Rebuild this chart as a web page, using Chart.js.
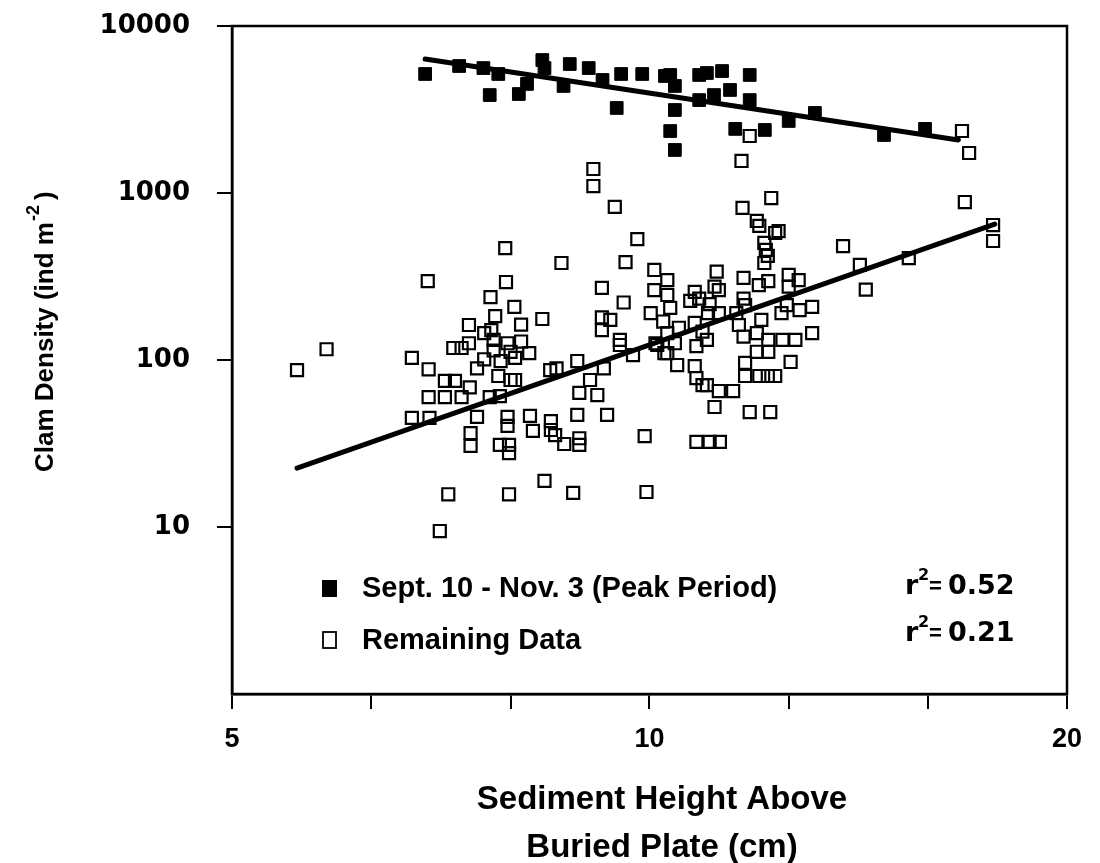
<!DOCTYPE html>
<html>
<head>
<meta charset="utf-8">
<script src="https://cdn.jsdelivr.net/npm/chart.js"></script>
<style>
  html, body { margin: 0; padding: 0; background: #fff; }
  #chart { display: block; }
</style>
</head>
<body>
<canvas id="chart" width="1100" height="863"></canvas>
<script>
// axis ticks
const xTicks = [5, 6.3, 7.94, 10, 12.6, 15.87, 20];
const xLabels = [5, 10, 20];
const yTicks = [10, 100, 1000, 10000];

// Sept. 10 - Nov. 3 (peak period), filled squares
const peakX = [6.89, 7.29, 7.59, 7.67, 7.78, 8.05, 8.16, 8.37, 8.4, 8.67,
  8.76, 9.04, 9.25, 9.47, 9.54, 9.88, 10.26, 10.35, 10.43, 10.43,
  10.35, 10.43, 10.86, 11.0, 11.28, 11.81, 11.43, 11.13, 10.86, 11.81,
  11.53, 12.11, 12.6, 13.16, 14.76, 15.8];
const peakY = [5160, 5760, 5600, 3860, 5160, 3915, 4500, 6255, 5600, 4375,
  5920, 5600, 4750, 3230, 5160, 5160, 5020, 5090, 4375, 3140,
  2350, 1810, 5090, 5230, 5375, 5090, 4140, 3860, 3600, 3600,
  2420, 2385, 2700, 3015, 2225, 2420];

// remaining data, open squares
const restX = [9.11, 9.11, 9.44, 9.8, 7.87, 8.64, 9.61, 10.08, 6.92, 7.88,
  9.24, 9.58, 10.08, 7.68, 7.99, 7.74, 8.37, 9.24, 9.37, 7.41,
  8.08, 10.02, 9.24, 9.52, 7.6, 7.69, 7.41, 7.22, 7.32, 7.72,
  7.9, 8.08, 7.72, 7.94, 8.19, 5.85, 6.74, 8.87, 5.57, 6.93,
  7.12, 7.24, 7.42, 6.93, 7.12, 7.32, 7.51, 7.67, 7.8, 7.78,
  7.94, 8.0, 6.74, 6.94, 7.51, 7.43, 7.43, 7.9, 7.9, 7.8,
  7.92, 7.92, 8.2, 8.24, 8.49, 8.49, 8.55, 8.68, 8.9, 8.9,
  8.87, 9.32, 9.92, 8.48, 8.57, 9.06, 8.9, 9.17, 9.27, 9.52,
  9.73, 8.4, 7.16, 7.92, 8.81, 9.95, 7.06, 7.6, 7.81, 8.0,
  10.23, 10.25, 10.1, 11.65, 11.81, 12.24, 11.67, 11.95, 12.0, 12.39,
  12.32, 12.1, 12.13, 12.17, 12.1, 16.88, 17.69, 17.69, 13.79, 14.18,
  15.38, 14.32, 16.8, 17.0, 10.3, 10.3, 10.35, 10.5, 10.78, 10.7,
  10.86, 11.18, 11.14, 11.22, 11.05, 11.22, 11.02, 11.69, 11.99, 12.18,
  11.69, 11.72, 12.6, 12.81, 12.6, 12.56, 12.83, 13.1, 12.45, 13.1,
  12.74, 12.47, 12.04, 12.18, 11.95, 11.55, 11.6, 11.69, 10.78, 10.92,
  11.0, 10.81, 10.3, 10.43, 10.13, 10.3, 10.47, 10.78, 10.81, 10.92,
  11.0, 11.22, 11.49, 11.14, 11.81, 12.22, 11.72, 11.72, 12.0, 12.17,
  12.32, 11.95, 12.18, 12.64, 10.81, 11.05, 11.24];
const restY = [1392, 1101, 825, 530, 468, 381, 386, 346, 297, 293,
  270, 221, 262, 238, 208, 183, 176, 180, 174, 162,
  163, 191, 151, 132, 145, 151, 126, 118, 118, 132,
  126, 129, 114, 112, 110, 116, 103, 98.6, 87, 88,
  74.9, 74.9, 68.5, 60, 60, 60, 89.2, 60, 60.8, 80.2,
  75.9, 75.9, 45, 45, 45.6, 36.5, 30.6, 45.6, 40.3, 31,
  31, 27.7, 46.3, 37.6, 43.1, 38.1, 35.5, 31.4, 34, 31,
  46.9, 46.9, 35, 87, 89.2, 75.9, 63.5, 61.7, 89.2, 123,
  107, 18.9, 15.7, 15.7, 16, 16.2, 9.46, 101, 98.6, 103,
  170, 110, 126, 1555, 2194, 933, 815, 680, 636, 592,
  576, 502, 456, 420, 381, 883, 643, 516, 481, 371,
  408, 264, 2351, 1736, 301, 245, 205, 156, 256, 226,
  233, 338, 275, 262, 216, 191, 191, 310, 281, 297,
  233, 213, 323, 301, 275, 213, 199, 208, 191, 145,
  132, 132, 174, 132, 145, 191, 162, 138, 167, 148,
  132, 121, 145, 126, 123, 110, 93.3, 92, 78, 70.8,
  70.8, 65.2, 65.2, 52.3, 48.8, 48.8, 96, 80.2, 80.2, 80.2,
  80.2, 112, 112, 97.3, 32.3, 32.3, 32.3];

// fitted lines (end points)
const peakFitX = [6.89, 16.7];
const peakFitY = [6340, 2077];
const restFitX = [5.57, 17.74];
const restFitY = [22.5, 652];

const peakLabel = 'Sept. 10 - Nov. 3 (Peak Period)';
const restLabel = 'Remaining Data';
const peakR2 = '0.52';
const restR2 = '0.21';

const toPoints = (xs, ys) => xs.map((x, i) => ({ x: x, y: ys[i] }));

const TITLE_FONT = 'bold 26px "Liberation Sans", Arial, sans-serif';

// frame, legend, r2 values and axis titles
const extras = {
  id: 'extras',
  afterDraw(chart) {
    const ctx = chart.ctx;
    const a = chart.chartArea;
    ctx.save();
    ctx.strokeStyle = '#000';
    ctx.lineWidth = 2.5;
    ctx.strokeRect(a.left, a.top, a.right - a.left, a.bottom - a.top);

    // legend
    ctx.fillStyle = '#000';
    ctx.fillRect(322, 580, 15, 17);
    ctx.lineWidth = 1.8;
    ctx.strokeRect(323, 632, 13, 16);
    ctx.font = 'bold 29px "Liberation Sans", Arial, sans-serif';
    ctx.textAlign = 'left';
    ctx.textBaseline = 'middle';
    ctx.fillText(peakLabel, 362, 589);
    ctx.fillText(restLabel, 362, 641);

    // r squared
    [[peakR2, 587], [restR2, 634]].forEach(([v, y]) => {
      ctx.font = 'bold 27px "DejaVu Sans", sans-serif';
      ctx.fillText('r', 905, y);
      ctx.font = 'bold 16px "DejaVu Sans", sans-serif';
      ctx.fillText('2', 918, y - 11);
      ctx.font = 'bold 22px "Liberation Sans", Arial, sans-serif';
      ctx.fillText('=', 929, y);
      ctx.font = 'bold 27px "DejaVu Sans", sans-serif';
      ctx.fillText(v, 948, y);
    });

    // y title with superscript
    ctx.translate(46, 472);
    ctx.rotate(-Math.PI / 2);
    ctx.font = TITLE_FONT;
    const t1 = 'Clam Density (ind m';
    ctx.fillText(t1, 0, 0);
    let w = ctx.measureText(t1).width;
    ctx.font = 'bold 18px "Liberation Sans", Arial, sans-serif';
    ctx.fillText('-2', w + 1, -12);
    w += ctx.measureText('-2').width + 6;
    ctx.font = TITLE_FONT;
    ctx.fillText(')', w, 0);
    ctx.setTransform(1, 0, 0, 1, 0, 0);

    // x title, two lines
    ctx.font = 'bold 33px "Liberation Sans", Arial, sans-serif';
    ctx.textAlign = 'center';
    ctx.fillText('Sediment Height Above', 662, 800);
    ctx.fillText('Buried Plate (cm)', 662, 848);
    ctx.restore();
  }
};

new Chart(document.getElementById('chart').getContext('2d'), {
  type: 'scatter',
  data: {
    datasets: [
      {
        label: peakLabel,
        data: toPoints(peakX, peakY),
        pointStyle: 'rect',
        pointRadius: 9,
        backgroundColor: '#000',
        borderColor: '#000',
        borderWidth: 1,
        order: 2
      },
      {
        label: restLabel,
        data: toPoints(restX, restY),
        pointStyle: 'rect',
        pointRadius: 8.5,
        backgroundColor: 'rgba(0,0,0,0)',
        borderColor: '#000',
        borderWidth: 2.2,
        order: 3
      },
      {
        type: 'line',
        data: toPoints(peakFitX, peakFitY),
        borderColor: '#000',
        borderWidth: 5,
        pointRadius: 0,
        borderCapStyle: 'round',
        order: 1
      },
      {
        type: 'line',
        data: toPoints(restFitX, restFitY),
        borderColor: '#000',
        borderWidth: 5,
        pointRadius: 0,
        borderCapStyle: 'round',
        order: 1
      }
    ]
  },
  options: {
    responsive: false,
    animation: false,
    devicePixelRatio: 1,
    layout: { padding: { left: 0, top: 26, right: 33, bottom: 0 } },
    plugins: { legend: { display: false }, tooltip: { enabled: false } },
    scales: {
      x: {
        type: 'logarithmic',
        min: 5,
        max: 20,
        afterBuildTicks: (s) => { s.ticks = xTicks.map(v => ({ value: v })); },
        afterFit: (s) => {
          s.height = 169;
          s.paddingLeft = 0;
          s.paddingRight = 0;
        },
        grid: { drawOnChartArea: false, drawTicks: true, tickLength: 15, color: '#000', lineWidth: 2 },
        border: { display: true, color: '#000', width: 2.5 },
        ticks: {
          autoSkip: false,
          maxRotation: 0,
          padding: 14,
          color: '#000',
          font: { family: '"Liberation Sans", Arial, sans-serif', weight: 'bold', size: 27 },
          callback: (v) => xLabels.includes(v) ? String(v) : ''
        }
      },
      y: {
        type: 'logarithmic',
        min: 1,
        max: 10000,
        afterBuildTicks: (s) => { s.ticks = yTicks.map(v => ({ value: v })); },
        afterFit: (s) => {
          s.width = 232;
          s.paddingTop = 0;
          s.paddingBottom = 0;
        },
        grid: { drawOnChartArea: false, drawTicks: true, tickLength: 15, color: '#000', lineWidth: 2 },
        border: { display: true, color: '#000', width: 2.5 },
        ticks: {
          autoSkip: false,
          padding: 27,
          color: '#000',
          font: { family: '"DejaVu Sans", sans-serif', weight: 'bold', size: 26 },
          callback: (v) => String(v)
        }
      }
    }
  },
  plugins: [extras]
});
</script>
</body>
</html>
